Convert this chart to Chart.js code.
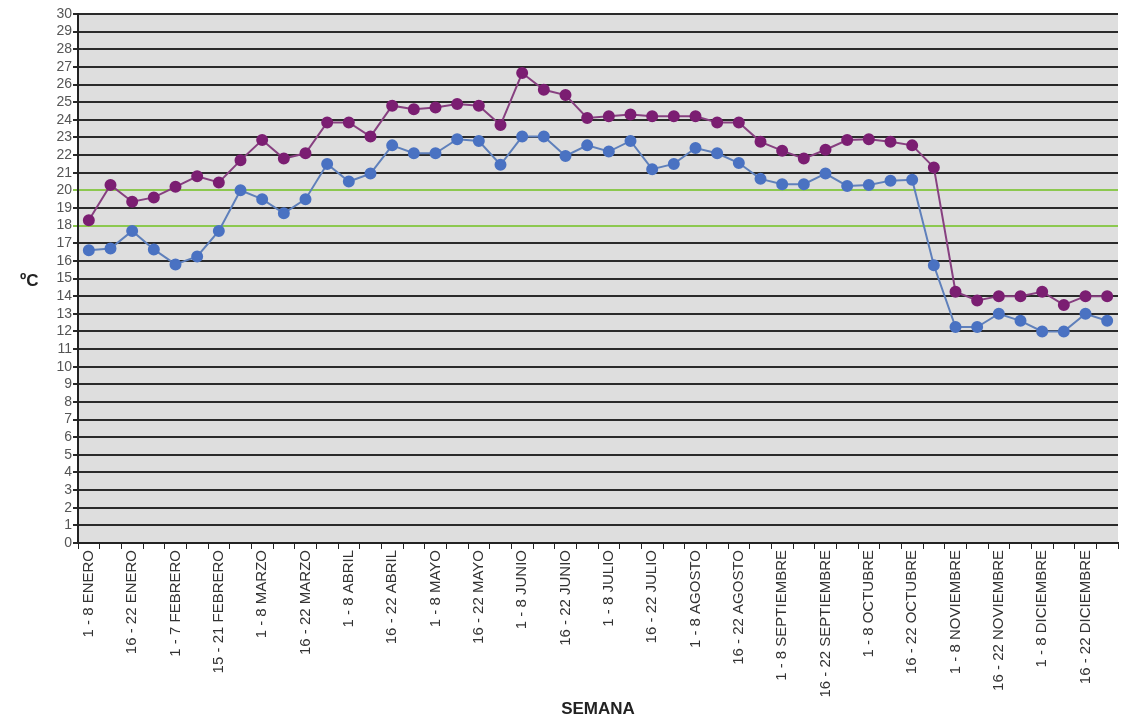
<!DOCTYPE html>
<html>
<head>
<meta charset="utf-8">
<script src="https://cdn.jsdelivr.net/npm/chart.js@4.4.1/dist/chart.umd.min.js"></script>
<style>
  html, body { margin: 0; padding: 0; background: #fff; }
  #wrap { width: 1125px; height: 726px; }
</style>
</head>
<body>
<div id="wrap"><canvas id="tempChart"></canvas></div>
<script>
// semanas (every other one gets a printed label)
var semanas = [
  '1 - 8 ENERO', '9 - 15 ENERO', '16 - 22 ENERO', '23 - 31 ENERO',
  '1 - 7 FEBRERO', '8 - 14 FEBRERO', '15 - 21 FEBRERO', '22 - 28 FEBRERO',
  '1 - 8 MARZO', '9 - 15 MARZO', '16 - 22 MARZO', '23 - 31 MARZO',
  '1 - 8 ABRIL', '9 - 15 ABRIL', '16 - 22 ABRIL', '23 - 30 ABRIL',
  '1 - 8 MAYO', '9 - 15 MAYO', '16 - 22 MAYO', '23 - 31 MAYO',
  '1 - 8 JUNIO', '9 - 15 JUNIO', '16 - 22 JUNIO', '23 - 30 JUNIO',
  '1 - 8 JULIO', '9 - 15 JULIO', '16 - 22 JULIO', '23 - 31 JULIO',
  '1 - 8 AGOSTO', '9 - 15 AGOSTO', '16 - 22 AGOSTO', '23 - 31 AGOSTO',
  '1 - 8 SEPTIEMBRE', '9 - 15 SEPTIEMBRE', '16 - 22 SEPTIEMBRE', '23 - 30 SEPTIEMBRE',
  '1 - 8 OCTUBRE', '9 - 15 OCTUBRE', '16 - 22 OCTUBRE', '23 - 31 OCTUBRE',
  '1 - 8 NOVIEMBRE', '9 - 15 NOVIEMBRE', '16 - 22 NOVIEMBRE', '23 - 30 NOVIEMBRE',
  '1 - 8 DICIEMBRE', '9 - 15 DICIEMBRE', '16 - 22 DICIEMBRE', '23 - 31 DICIEMBRE'
];

var tempMax = [
  18.3, 20.3, 19.35, 19.6, 20.2, 20.8, 20.45, 21.7, 22.85, 21.8, 22.1, 23.85,
  23.85, 23.05, 24.8, 24.6, 24.7, 24.9, 24.8, 23.7, 26.65, 25.7, 25.4, 24.1,
  24.2, 24.3, 24.2, 24.2, 24.2, 23.85, 23.85, 22.75, 22.25, 21.8, 22.3, 22.85,
  22.9, 22.75, 22.55, 21.3, 14.25, 13.75, 14.0, 14.0, 14.25, 13.5, 14.0, 14.0
];

var tempMin = [
  16.6, 16.7, 17.7, 16.65, 15.8, 16.25, 17.7, 20.0, 19.5, 18.7, 19.5, 21.5,
  20.5, 20.95, 22.55, 22.1, 22.1, 22.9, 22.8, 21.45, 23.05, 23.05, 21.95, 22.55,
  22.2, 22.8, 21.2, 21.5, 22.4, 22.1, 21.55, 20.65, 20.35, 20.35, 20.95, 20.25,
  20.3, 20.55, 20.6, 15.75, 12.25, 12.25, 13.0, 12.6, 12.0, 12.0, 13.0, 12.6
];

var limites = [18, 20]; // green reference lines

var fondoPlugin = {
  id: 'fondo',
  beforeDraw: function (chart) {
    var a = chart.chartArea, ctx = chart.ctx;
    ctx.save();
    ctx.fillStyle = '#dedede';
    ctx.fillRect(a.left, a.top, a.right - a.left, a.bottom - a.top);
    ctx.restore();
  },
  afterDraw: function (chart) {
    var ctx = chart.ctx;
    ctx.save();
    ctx.fillStyle = '#222';
    ctx.font = 'bold 17px "Liberation Sans", Arial, sans-serif';
    ctx.textBaseline = 'middle';
    ctx.fillText('ºC', 20, 281);
    ctx.restore();
  }
};

new Chart(document.getElementById('tempChart'), {
  type: 'line',
  data: {
    labels: semanas,
    datasets: [
      {
        label: 'Máxima',
        data: tempMax,
        borderColor: '#874080',
        borderWidth: 2,
        backgroundColor: '#7b1e72',
        pointBackgroundColor: '#7b1e72',
        pointBorderColor: '#7b1e72',
        pointRadius: 5,
        tension: 0
      },
      {
        label: 'Mínima',
        data: tempMin,
        borderColor: '#5f80bb',
        borderWidth: 2,
        backgroundColor: '#4a72c2',
        pointBackgroundColor: '#4a72c2',
        pointBorderColor: '#4a72c2',
        pointRadius: 5,
        tension: 0
      }
    ]
  },
  options: {
    responsive: true,
    maintainAspectRatio: false,
    animation: false,
    layout: { padding: { top: 14, right: -2, left: 0, bottom: 4 } },
    plugins: {
      legend: { display: false },
      tooltip: { enabled: false }
    },
    scales: {
      x: {
        offset: true,
        grid: {
          offset: true,
          drawOnChartArea: false,
          drawTicks: true,
          tickLength: 6,
          color: '#222'
        },
        border: { color: '#222', width: 2 },
        ticks: {
          autoSkip: false,
          maxRotation: 90,
          minRotation: 90,
          padding: 1,
          color: '#333',
          font: { family: '"Liberation Sans", Arial, sans-serif', size: 15 },
          callback: function (val, i) {
            return i % 2 === 0 ? semanas[i] : '';
          }
        },
        title: {
          display: true,
          text: 'SEMANA',
          color: '#222',
          font: { family: '"Liberation Sans", Arial, sans-serif', size: 17, weight: 'bold' },
          padding: { top: 4, bottom: 2 }
        },
        afterFit: function (scale) {
          scale.height = 179;
          scale.paddingLeft = 0;
          scale.paddingRight = 0;
        }
      },
      y: {
        min: 0,
        max: 30,
        ticks: {
          stepSize: 1,
          autoSkip: false,
          padding: 1,
          color: '#555',
          font: { family: '"Liberation Sans", Arial, sans-serif', size: 14 }
        },
        grid: {
          lineWidth: 2,
          tickLength: 5,
          color: function (ctx) {
            if (ctx.tick && limites.indexOf(ctx.tick.value) >= 0) return '#8cc84f';
            return '#2a2a2a';
          }
        },
        border: { color: '#222', width: 2 },
        afterFit: function (scale) { scale.width = 78; }
      }
    }
  },
  plugins: [fondoPlugin]
});
</script>
</body>
</html>
